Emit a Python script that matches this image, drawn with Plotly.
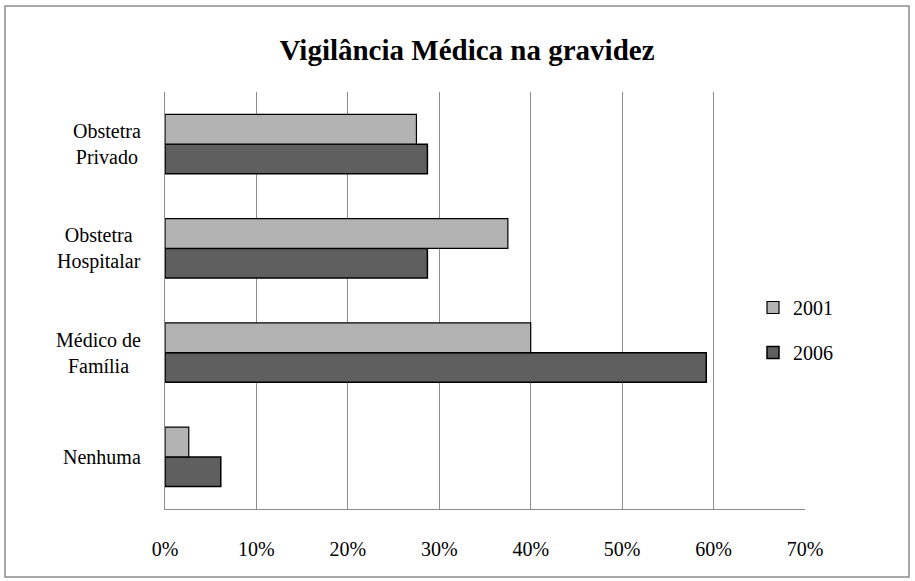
import plotly.graph_objects as go

categories = ["Nenhuma", "Médico de<br>Família", "Obstetra<br>Hospitalar", "Obstetra<br>Privado"]
values_2001 = [0.026, 0.40, 0.375, 0.275]
values_2006 = [0.061, 0.592, 0.287, 0.287]
series_names = ["2001", "2006"]
tick_vals = [0, 0.1, 0.2, 0.3, 0.4, 0.5, 0.6, 0.7]
tick_text = ["0%", "10%", "20%", "30%", "40%", "50%", "60%", "70%"]

FONT = "Liberation Serif"

fig = go.Figure()
fig.add_trace(go.Bar(
    y=categories, x=values_2006, name=series_names[1], orientation="h",
    legendgroup="g2006", legendrank=2,
    marker=dict(color="#5f5f5f", line=dict(color="black", width=1.5)),
))
fig.add_trace(go.Bar(
    y=categories, x=values_2001, name=series_names[0], orientation="h",
    legendgroup="g2001", legendrank=1,
    marker=dict(color="#b3b3b3", line=dict(color="black", width=1.2)),
))

annotations = [
    dict(x=0, xref="paper", y=c, yref="y", text=c, showarrow=False,
         xanchor="right", yanchor="middle", align="center", xshift=-22,
         font=dict(family=FONT, size=20, color="black"))
    for c in categories
]

fig.update_layout(
    width=915, height=581,
    margin=dict(l=165, r=110, t=92, b=72),
    paper_bgcolor="white", plot_bgcolor="white",
    barmode="group", bargap=0.43, bargroupgap=0,
    font=dict(family=FONT, size=20, color="black"),
    title=dict(text="<b>Vigilância Médica na gravidez</b>", x=467/915, xanchor="center",
               y=1 - 50/581, yanchor="middle", font=dict(family=FONT, size=29, color="black")),
    legend=dict(x=(753 - 165)/640, y=(509 - 330)/417, xanchor="left", yanchor="middle",
                traceorder="grouped", font=dict(size=20), itemwidth=30,
                tracegroupgap=16, bgcolor="rgba(0,0,0,0)"),
    showlegend=True,
    annotations=annotations,
    xaxis=dict(range=[0, 0.7], tickvals=tick_vals, ticktext=tick_text,
               showgrid=True, gridcolor="#8c8c8c", gridwidth=1.3,
               showline=True, linecolor="#8c8c8c", linewidth=1.3,
               zeroline=False, ticks="", ticklabelstandoff=22, fixedrange=True),
    yaxis=dict(showgrid=False, showline=True, linecolor="#8c8c8c", linewidth=1.3,
               ticks="", showticklabels=False, fixedrange=True),
    shapes=[dict(type="rect", xref="paper", yref="paper", x0=-160/640, x1=1 + 104/640,
                 y0=-68/417, y1=1 + 86/417, line=dict(color="#8c8c8c", width=1.5))],
)

fig.write_html("out.html", config={"displayModeBar": False},
               post_script="document.body.style.margin='0';document.body.style.overflow='hidden';")
